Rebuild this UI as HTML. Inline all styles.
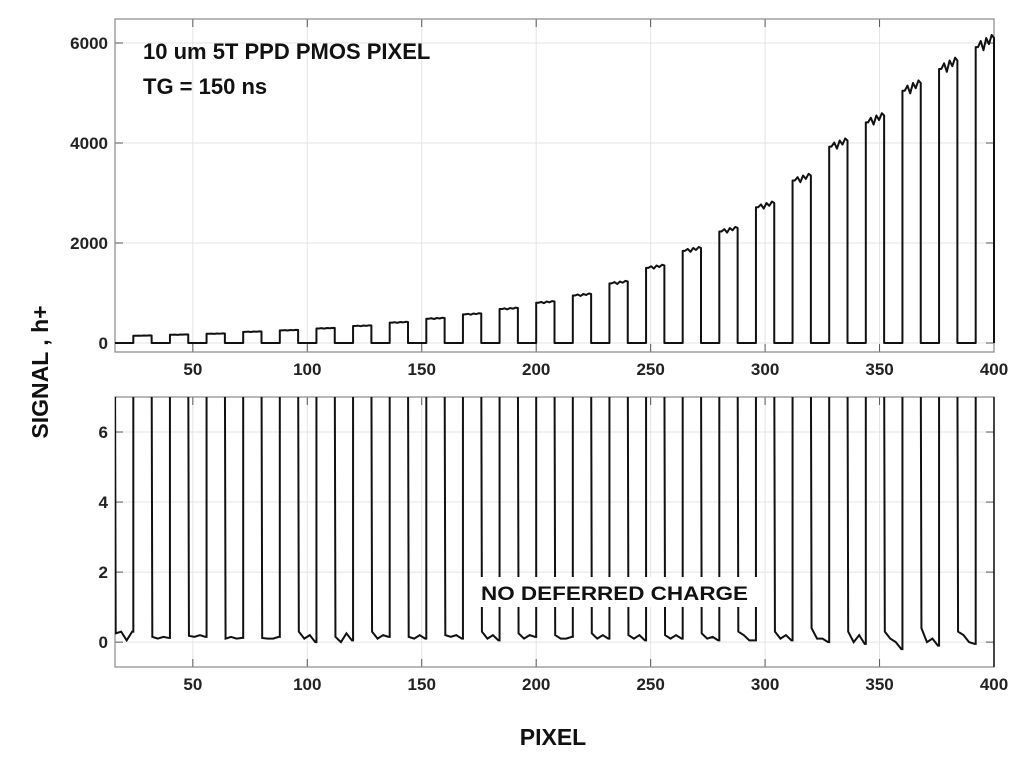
<!DOCTYPE html>
<html><head><meta charset="utf-8">
<style>
body{margin:0;background:#fff;}
svg{display:block;font-family:"Liberation Sans",Arial,sans-serif;}
.tk{font-size:17px;font-weight:bold;fill:#222;}
</style></head>
<body>
<svg id="chart" width="1024" height="769"></svg>
<script>
const pulseStarts=[24,40,56,72,88,104,120,136,152,168,184,200,216,232,248,264,280,296,312,328,344,360,376,392];
const pulseHeights=[150,170,190,230,260,300,350,420,500,590,700,830,980,1230,1550,1900,2300,2800,3350,4050,4550,5200,5650,6100];
const baselineNoise=[[0.25,0.3,0.05,0.3],[0.15,0.1,0.15,0.12],[0.18,0.15,0.2,0.15],[0.1,0.15,0.1,0.12],[0.12,0.1,0.1,0.15],[0.3,0.1,0.2,0.0],[0.15,0.0,0.25,0.05],[0.3,0.1,0.2,0.15],[0.15,0.1,0.2,0.1],[0.2,0.15,0.2,0.1],[0.3,0.1,0.2,0.05],[0.25,0.1,0.2,0.15],[0.2,0.1,0.1,0.15],[0.25,0.1,0.2,0.1],[0.2,0.1,0.2,0.05],[0.2,0.1,0.2,0.1],[0.25,0.1,0.15,0.05],[0.3,0.2,0.05,0.05],[0.3,0.1,0.2,0.05],[0.4,0.1,0.1,0.0],[0.3,0.0,0.2,-0.05],[0.3,0.1,0.0,-0.2],[0.4,0.0,0.1,-0.1],[0.3,0.2,0.0,-0.05]];
const plateauRipple=[0,0.02,-0.01,0.03,0.01,0.04];
const xTicks=[50,100,150,200,250,300,350,400];
const topYTicks=[0,2000,4000,6000];
const botYTicks=[0,2,4,6];

const NS="http://www.w3.org/2000/svg";
const svg=document.getElementById('chart');
function mk(t,a,p){const e=document.createElementNS(NS,t);for(const k in a)e.setAttribute(k,a[k]);(p||svg).appendChild(e);return e;}
const L=115,R=994,xmin=16,xmax=400;
const X=v=>L+(v-xmin)/(xmax-xmin)*(R-L);
const T={top:19,bot:352,min:-180,max:6480};
const B={top:397,bot:667,min:-0.71,max:7.0};
const YT=v=>T.bot-(v-T.min)/(T.max-T.min)*(T.bot-T.top);
const YB=v=>B.bot-(v-B.min)/(B.max-B.min)*(B.bot-B.top);

function panel(P,Y,ticks,name){
  const g=mk('g',{});
  
  
  mk('rect',{x:L,y:P.top,width:R-L,height:P.bot-P.top,fill:'#fff'},g);
  xTicks.forEach(t=>{const l=mk('line',{x1:X(t),x2:X(t),y1:P.top,y2:P.bot,stroke:'#e4e4e4','stroke-width':1},g);
    });
  ticks.forEach(t=>{const l=mk('line',{x1:L,x2:R,y1:Y(t),y2:Y(t),stroke:'#e4e4e4','stroke-width':1},g);
    
    mk('line',{x1:L,x2:L+8,y1:Y(t),y2:Y(t),stroke:'#555'},g);mk('line',{x1:R-8,x2:R,y1:Y(t),y2:Y(t),stroke:'#555'},g);
    const tx=mk('text',{x:L-7,y:Y(t)+6,'text-anchor':'end',class:'tk'},g);tx.textContent=t;
    });
  xTicks.forEach(t=>{
    mk('line',{x1:X(t),x2:X(t),y1:P.bot,y2:P.bot-8,stroke:'#555'},g);
    mk('line',{x1:X(t),x2:X(t),y1:P.top,y2:P.top+8,stroke:'#555'},g);
    const tx=mk('text',{x:X(t),y:P.bot+23,'text-anchor':'middle',class:'tk'},g);tx.textContent=t;
    });
  const fr=mk('rect',{x:L,y:P.top,width:R-L,height:P.bot-P.top,fill:'none',stroke:'#888','stroke-width':1.2},g);
  
  return g;
}
panel(T,YT,topYTicks,'top-panel');
panel(B,YB,botYTicks,'bottom-panel');

// top trace
let d=`M${X(xmin)},${YT(0)}`;
pulseStarts.forEach((s,i)=>{
  const h=pulseHeights[i];
  d+=` L${X(s)},${YT(0)} L${X(s)},${YT(h*0.97)}`;
  plateauRipple.forEach((r,j)=>{d+=` L${X(s+1+j*1.2)},${YT(h*(0.97+r))}`;});
  const e=Math.min(s+8,xmax);
  d+=` L${X(e)},${YT(h)} L${X(e)},${YT(0)}`;
});
d+=` L${X(xmax)},${YT(0)}`;
const tp=mk('path',{d:d,fill:'none',stroke:'#111','stroke-width':2,'stroke-linejoin':'round'});



// bottom trace (clipped)
mk('clipPath',{id:'cb'});
mk('rect',{x:L,y:B.top,width:R-L,height:B.bot-B.top},document.getElementById('cb'));
let d2='';
pulseStarts.forEach((s,i)=>{
  const n=baselineNoise[i];
  const gs=s-8;
  d2+=` M${X(gs)},${YB(8)}`;
  n.forEach((v,j)=>{d2+=` L${X(gs+0.3+j*2.4)},${YB(v)}`;});
  d2+=` L${X(s)},${YB(n[n.length-1])} L${X(s)},${YB(8)}`;
});
const bp=mk('path',{d:d2,fill:'none',stroke:'#111','stroke-width':2,'clip-path':'url(#cb)'});


const lp=mk('line',{x1:X(400),x2:X(400),y1:B.top,y2:B.bot,stroke:'#111','stroke-width':1.5});


// annotations
const nb=mk('rect',{x:475,y:577,width:282,height:30,fill:'#fff'});

const nt=mk('text',{x:481,y:600,'font-size':'19px','font-weight':'bold',fill:'#111',textLength:267,lengthAdjust:'spacingAndGlyphs'});nt.textContent='NO DEFERRED CHARGE';

const t1=mk('text',{x:143,y:59,'font-size':'22px','font-weight':'bold',fill:'#111'});t1.textContent='10 um 5T PPD PMOS PIXEL';

const t2=mk('text',{x:143,y:94,'font-size':'22px','font-weight':'bold',fill:'#111'});t2.textContent='TG = 150 ns';

const yl=mk('text',{x:0,y:0,'font-size':'23px','font-weight':'bold',fill:'#111','text-anchor':'middle',transform:'translate(48,372) rotate(-90)'});yl.textContent='SIGNAL , h+';

const xl=mk('text',{x:553,y:745,'font-size':'23px','font-weight':'bold',fill:'#111','text-anchor':'middle'});xl.textContent='PIXEL';

</script>
</body></html>
